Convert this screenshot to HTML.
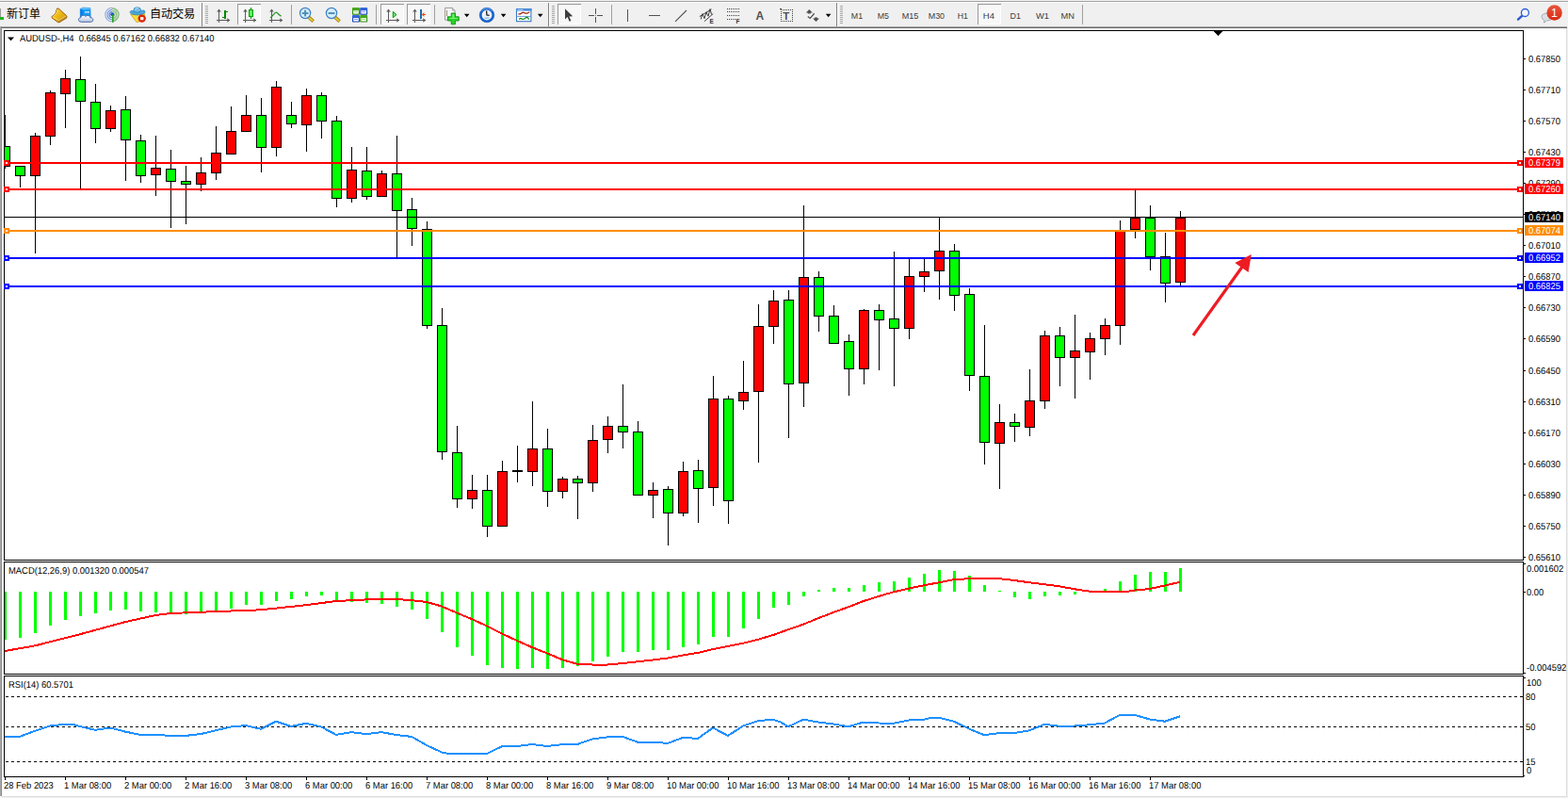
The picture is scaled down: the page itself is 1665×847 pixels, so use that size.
<!DOCTYPE html>
<html><head><meta charset="utf-8"><title>AUDUSD H4</title><style>
html,body{margin:0;padding:0}
body{width:1665px;height:847px;position:relative;overflow:hidden;background:#fff;font-family:"Liberation Sans",sans-serif}
svg{position:absolute;left:0;top:0}
.t{position:absolute;font-size:10px;line-height:12px;height:12px;white-space:nowrap;color:#000;text-rendering:geometricPrecision;transform:scaleX(.94);transform-origin:0 0}
.pb{position:absolute;left:1619px;width:41px;height:11px;color:#fff;font-size:10px;line-height:12px;text-rendering:geometricPrecision}
.pb span{position:absolute;left:4px;top:1px;white-space:nowrap;transform:scaleX(.94);transform-origin:0 0}
</style></head>
<body>
<svg width="1665" height="847" viewBox="0 0 1665 847" shape-rendering="crispEdges">
<rect x="0" y="0" width="1665" height="847" fill="#fff"/>
<rect x="0" y="0" width="1665" height="28" fill="#f0f0f0"/>
<rect x="0" y="0" width="1665" height="1" fill="#f2f2f2"/><rect x="0" y="1" width="1665" height="1" fill="#a0a0a0"/><rect x="0" y="2" width="1665" height="1" fill="#fff"/>
<rect x="0" y="28" width="1664" height="1" fill="#a8a8a8"/><rect x="0" y="29" width="1664" height="1" fill="#696969"/>
<rect x="0" y="28" width="1" height="817" fill="#a8a8a8"/><rect x="1" y="28" width="1" height="817" fill="#8c8c8c"/>
<rect x="1663" y="30" width="1" height="816" fill="#dcdcdc"/><rect x="1664" y="28" width="1" height="819" fill="#f0f0f0"/>
<rect x="2" y="845" width="1662" height="1" fill="#dcdcdc"/><rect x="0" y="846" width="1665" height="1" fill="#f0f0f0"/>
<polygon points="8,39.4 15,39.4 11.5,43.2" fill="#000" shape-rendering="auto"/>
<polygon points="1288.5,33 1298.5,33 1293.5,38.3" fill="#000"/>
<clipPath id="cm"><rect x="5" y="33" width="1612" height="561"/></clipPath><g clip-path="url(#cm)">
<rect x="5" y="122" width="1" height="57" fill="#000"/>
<rect x="0" y="155" width="11" height="22" fill="#000"/>
<rect x="1" y="156" width="9" height="20" fill="#00ff00"/>
<rect x="21" y="176" width="1" height="23" fill="#000"/>
<rect x="16" y="176" width="11" height="11" fill="#000"/>
<rect x="17" y="177" width="9" height="9" fill="#00ff00"/>
<rect x="37" y="141" width="1" height="128" fill="#000"/>
<rect x="32" y="144" width="11" height="43" fill="#000"/>
<rect x="33" y="145" width="9" height="41" fill="#ff0000"/>
<rect x="53" y="96" width="1" height="58" fill="#000"/>
<rect x="48" y="98" width="11" height="47" fill="#000"/>
<rect x="49" y="99" width="9" height="45" fill="#ff0000"/>
<rect x="69" y="74" width="1" height="62" fill="#000"/>
<rect x="64" y="83" width="11" height="17" fill="#000"/>
<rect x="65" y="84" width="9" height="15" fill="#ff0000"/>
<rect x="85" y="60" width="1" height="140" fill="#000"/>
<rect x="80" y="84" width="11" height="24" fill="#000"/>
<rect x="81" y="85" width="9" height="22" fill="#00ff00"/>
<rect x="101" y="89" width="1" height="63" fill="#000"/>
<rect x="96" y="108" width="11" height="29" fill="#000"/>
<rect x="97" y="109" width="9" height="27" fill="#00ff00"/>
<rect x="117" y="112" width="1" height="28" fill="#000"/>
<rect x="112" y="117" width="11" height="20" fill="#000"/>
<rect x="113" y="118" width="9" height="18" fill="#ff0000"/>
<rect x="133" y="102" width="1" height="90" fill="#000"/>
<rect x="128" y="116" width="11" height="33" fill="#000"/>
<rect x="129" y="117" width="9" height="31" fill="#00ff00"/>
<rect x="149" y="143" width="1" height="51" fill="#000"/>
<rect x="144" y="149" width="11" height="38" fill="#000"/>
<rect x="145" y="150" width="9" height="36" fill="#00ff00"/>
<rect x="165" y="144" width="1" height="64" fill="#000"/>
<rect x="160" y="178" width="11" height="8" fill="#000"/>
<rect x="161" y="179" width="9" height="6" fill="#ff0000"/>
<rect x="181" y="159" width="1" height="83" fill="#000"/>
<rect x="176" y="179" width="11" height="14" fill="#000"/>
<rect x="177" y="180" width="9" height="12" fill="#00ff00"/>
<rect x="197" y="176" width="1" height="62" fill="#000"/>
<rect x="192" y="192" width="11" height="4" fill="#000"/>
<rect x="193" y="193" width="9" height="2" fill="#00ff00"/>
<rect x="213" y="167" width="1" height="36" fill="#000"/>
<rect x="208" y="183" width="11" height="13" fill="#000"/>
<rect x="209" y="184" width="9" height="11" fill="#ff0000"/>
<rect x="229" y="134" width="1" height="57" fill="#000"/>
<rect x="224" y="162" width="11" height="22" fill="#000"/>
<rect x="225" y="163" width="9" height="20" fill="#ff0000"/>
<rect x="245" y="113" width="1" height="50" fill="#000"/>
<rect x="240" y="139" width="11" height="25" fill="#000"/>
<rect x="241" y="140" width="9" height="23" fill="#ff0000"/>
<rect x="261" y="101" width="1" height="38" fill="#000"/>
<rect x="256" y="122" width="11" height="18" fill="#000"/>
<rect x="257" y="123" width="9" height="16" fill="#ff0000"/>
<rect x="277" y="104" width="1" height="79" fill="#000"/>
<rect x="272" y="122" width="11" height="35" fill="#000"/>
<rect x="273" y="123" width="9" height="33" fill="#00ff00"/>
<rect x="293" y="86" width="1" height="80" fill="#000"/>
<rect x="288" y="92" width="11" height="65" fill="#000"/>
<rect x="289" y="93" width="9" height="63" fill="#ff0000"/>
<rect x="309" y="108" width="1" height="28" fill="#000"/>
<rect x="304" y="122" width="11" height="10" fill="#000"/>
<rect x="305" y="123" width="9" height="8" fill="#00ff00"/>
<rect x="325" y="94" width="1" height="67" fill="#000"/>
<rect x="320" y="101" width="11" height="32" fill="#000"/>
<rect x="321" y="102" width="9" height="30" fill="#ff0000"/>
<rect x="341" y="98" width="1" height="49" fill="#000"/>
<rect x="336" y="101" width="11" height="28" fill="#000"/>
<rect x="337" y="102" width="9" height="26" fill="#00ff00"/>
<rect x="357" y="123" width="1" height="97" fill="#000"/>
<rect x="352" y="128" width="11" height="83" fill="#000"/>
<rect x="353" y="129" width="9" height="81" fill="#00ff00"/>
<rect x="373" y="156" width="1" height="59" fill="#000"/>
<rect x="368" y="180" width="11" height="31" fill="#000"/>
<rect x="369" y="181" width="9" height="29" fill="#ff0000"/>
<rect x="389" y="156" width="1" height="56" fill="#000"/>
<rect x="384" y="181" width="11" height="28" fill="#000"/>
<rect x="385" y="182" width="9" height="26" fill="#00ff00"/>
<rect x="405" y="181" width="1" height="27" fill="#000"/>
<rect x="400" y="184" width="11" height="25" fill="#000"/>
<rect x="401" y="185" width="9" height="23" fill="#ff0000"/>
<rect x="421" y="144" width="1" height="129" fill="#000"/>
<rect x="416" y="184" width="11" height="40" fill="#000"/>
<rect x="417" y="185" width="9" height="38" fill="#00ff00"/>
<rect x="437" y="210" width="1" height="51" fill="#000"/>
<rect x="432" y="222" width="11" height="21" fill="#000"/>
<rect x="433" y="223" width="9" height="19" fill="#00ff00"/>
<rect x="453" y="235" width="1" height="114" fill="#000"/>
<rect x="448" y="243" width="11" height="103" fill="#000"/>
<rect x="449" y="244" width="9" height="101" fill="#00ff00"/>
<rect x="469" y="327" width="1" height="161" fill="#000"/>
<rect x="464" y="345" width="11" height="135" fill="#000"/>
<rect x="465" y="346" width="9" height="133" fill="#00ff00"/>
<rect x="485" y="452" width="1" height="87" fill="#000"/>
<rect x="480" y="480" width="11" height="50" fill="#000"/>
<rect x="481" y="481" width="9" height="48" fill="#00ff00"/>
<rect x="501" y="504" width="1" height="36" fill="#000"/>
<rect x="496" y="520" width="11" height="10" fill="#000"/>
<rect x="497" y="521" width="9" height="8" fill="#ff0000"/>
<rect x="517" y="504" width="1" height="66" fill="#000"/>
<rect x="512" y="520" width="11" height="39" fill="#000"/>
<rect x="513" y="521" width="9" height="37" fill="#00ff00"/>
<rect x="533" y="489" width="1" height="69" fill="#000"/>
<rect x="528" y="500" width="11" height="59" fill="#000"/>
<rect x="529" y="501" width="9" height="57" fill="#ff0000"/>
<rect x="549" y="473" width="1" height="39" fill="#000"/>
<rect x="544" y="499" width="11" height="2" fill="#000"/>
<rect x="565" y="426" width="1" height="90" fill="#000"/>
<rect x="560" y="476" width="11" height="25" fill="#000"/>
<rect x="561" y="477" width="9" height="23" fill="#ff0000"/>
<rect x="581" y="455" width="1" height="83" fill="#000"/>
<rect x="576" y="476" width="11" height="46" fill="#000"/>
<rect x="577" y="477" width="9" height="44" fill="#00ff00"/>
<rect x="597" y="506" width="1" height="23" fill="#000"/>
<rect x="592" y="508" width="11" height="14" fill="#000"/>
<rect x="593" y="509" width="9" height="12" fill="#ff0000"/>
<rect x="613" y="505" width="1" height="46" fill="#000"/>
<rect x="608" y="508" width="11" height="5" fill="#000"/>
<rect x="609" y="509" width="9" height="3" fill="#00ff00"/>
<rect x="629" y="451" width="1" height="71" fill="#000"/>
<rect x="624" y="467" width="11" height="46" fill="#000"/>
<rect x="625" y="468" width="9" height="44" fill="#ff0000"/>
<rect x="645" y="442" width="1" height="39" fill="#000"/>
<rect x="640" y="452" width="11" height="15" fill="#000"/>
<rect x="641" y="453" width="9" height="13" fill="#ff0000"/>
<rect x="661" y="408" width="1" height="68" fill="#000"/>
<rect x="656" y="452" width="11" height="7" fill="#000"/>
<rect x="657" y="453" width="9" height="5" fill="#00ff00"/>
<rect x="677" y="447" width="1" height="78" fill="#000"/>
<rect x="672" y="458" width="11" height="68" fill="#000"/>
<rect x="673" y="459" width="9" height="66" fill="#00ff00"/>
<rect x="693" y="512" width="1" height="38" fill="#000"/>
<rect x="688" y="520" width="11" height="6" fill="#000"/>
<rect x="689" y="521" width="9" height="4" fill="#ff0000"/>
<rect x="709" y="516" width="1" height="63" fill="#000"/>
<rect x="704" y="519" width="11" height="26" fill="#000"/>
<rect x="705" y="520" width="9" height="24" fill="#00ff00"/>
<rect x="725" y="490" width="1" height="58" fill="#000"/>
<rect x="720" y="500" width="11" height="45" fill="#000"/>
<rect x="721" y="501" width="9" height="43" fill="#ff0000"/>
<rect x="741" y="488" width="1" height="67" fill="#000"/>
<rect x="736" y="499" width="11" height="20" fill="#000"/>
<rect x="737" y="500" width="9" height="18" fill="#00ff00"/>
<rect x="757" y="399" width="1" height="138" fill="#000"/>
<rect x="752" y="423" width="11" height="95" fill="#000"/>
<rect x="753" y="424" width="9" height="93" fill="#ff0000"/>
<rect x="773" y="420" width="1" height="136" fill="#000"/>
<rect x="768" y="423" width="11" height="109" fill="#000"/>
<rect x="769" y="424" width="9" height="107" fill="#00ff00"/>
<rect x="789" y="383" width="1" height="52" fill="#000"/>
<rect x="784" y="416" width="11" height="10" fill="#000"/>
<rect x="785" y="417" width="9" height="8" fill="#ff0000"/>
<rect x="805" y="323" width="1" height="168" fill="#000"/>
<rect x="800" y="346" width="11" height="70" fill="#000"/>
<rect x="801" y="347" width="9" height="68" fill="#ff0000"/>
<rect x="821" y="308" width="1" height="57" fill="#000"/>
<rect x="816" y="319" width="11" height="28" fill="#000"/>
<rect x="817" y="320" width="9" height="26" fill="#ff0000"/>
<rect x="837" y="308" width="1" height="157" fill="#000"/>
<rect x="832" y="318" width="11" height="90" fill="#000"/>
<rect x="833" y="319" width="9" height="88" fill="#00ff00"/>
<rect x="853" y="218" width="1" height="214" fill="#000"/>
<rect x="848" y="294" width="11" height="113" fill="#000"/>
<rect x="849" y="295" width="9" height="111" fill="#ff0000"/>
<rect x="869" y="288" width="1" height="64" fill="#000"/>
<rect x="864" y="294" width="11" height="42" fill="#000"/>
<rect x="865" y="295" width="9" height="40" fill="#00ff00"/>
<rect x="885" y="324" width="1" height="40" fill="#000"/>
<rect x="880" y="335" width="11" height="30" fill="#000"/>
<rect x="881" y="336" width="9" height="28" fill="#00ff00"/>
<rect x="901" y="355" width="1" height="65" fill="#000"/>
<rect x="896" y="362" width="11" height="30" fill="#000"/>
<rect x="897" y="363" width="9" height="28" fill="#00ff00"/>
<rect x="917" y="328" width="1" height="80" fill="#000"/>
<rect x="912" y="329" width="11" height="63" fill="#000"/>
<rect x="913" y="330" width="9" height="61" fill="#ff0000"/>
<rect x="933" y="323" width="1" height="70" fill="#000"/>
<rect x="928" y="329" width="11" height="11" fill="#000"/>
<rect x="929" y="330" width="9" height="9" fill="#00ff00"/>
<rect x="949" y="267" width="1" height="143" fill="#000"/>
<rect x="944" y="338" width="11" height="11" fill="#000"/>
<rect x="945" y="339" width="9" height="9" fill="#00ff00"/>
<rect x="965" y="275" width="1" height="85" fill="#000"/>
<rect x="960" y="293" width="11" height="56" fill="#000"/>
<rect x="961" y="294" width="9" height="54" fill="#ff0000"/>
<rect x="981" y="275" width="1" height="35" fill="#000"/>
<rect x="976" y="288" width="11" height="6" fill="#000"/>
<rect x="977" y="289" width="9" height="4" fill="#ff0000"/>
<rect x="997" y="230" width="1" height="88" fill="#000"/>
<rect x="992" y="266" width="11" height="22" fill="#000"/>
<rect x="993" y="267" width="9" height="20" fill="#ff0000"/>
<rect x="1013" y="259" width="1" height="71" fill="#000"/>
<rect x="1008" y="266" width="11" height="48" fill="#000"/>
<rect x="1009" y="267" width="9" height="46" fill="#00ff00"/>
<rect x="1029" y="306" width="1" height="109" fill="#000"/>
<rect x="1024" y="312" width="11" height="87" fill="#000"/>
<rect x="1025" y="313" width="9" height="85" fill="#00ff00"/>
<rect x="1045" y="345" width="1" height="148" fill="#000"/>
<rect x="1040" y="399" width="11" height="71" fill="#000"/>
<rect x="1041" y="400" width="9" height="69" fill="#00ff00"/>
<rect x="1061" y="429" width="1" height="90" fill="#000"/>
<rect x="1056" y="448" width="11" height="23" fill="#000"/>
<rect x="1057" y="449" width="9" height="21" fill="#ff0000"/>
<rect x="1077" y="439" width="1" height="30" fill="#000"/>
<rect x="1072" y="448" width="11" height="5" fill="#000"/>
<rect x="1073" y="449" width="9" height="3" fill="#00ff00"/>
<rect x="1093" y="392" width="1" height="71" fill="#000"/>
<rect x="1088" y="425" width="11" height="29" fill="#000"/>
<rect x="1089" y="426" width="9" height="27" fill="#ff0000"/>
<rect x="1109" y="351" width="1" height="83" fill="#000"/>
<rect x="1104" y="356" width="11" height="70" fill="#000"/>
<rect x="1105" y="357" width="9" height="68" fill="#ff0000"/>
<rect x="1125" y="347" width="1" height="63" fill="#000"/>
<rect x="1120" y="356" width="11" height="24" fill="#000"/>
<rect x="1121" y="357" width="9" height="22" fill="#00ff00"/>
<rect x="1141" y="334" width="1" height="89" fill="#000"/>
<rect x="1136" y="372" width="11" height="8" fill="#000"/>
<rect x="1137" y="373" width="9" height="6" fill="#ff0000"/>
<rect x="1157" y="353" width="1" height="50" fill="#000"/>
<rect x="1152" y="359" width="11" height="15" fill="#000"/>
<rect x="1153" y="360" width="9" height="13" fill="#ff0000"/>
<rect x="1173" y="338" width="1" height="39" fill="#000"/>
<rect x="1168" y="345" width="11" height="15" fill="#000"/>
<rect x="1169" y="346" width="9" height="13" fill="#ff0000"/>
<rect x="1189" y="234" width="1" height="132" fill="#000"/>
<rect x="1184" y="245" width="11" height="101" fill="#000"/>
<rect x="1185" y="246" width="9" height="99" fill="#ff0000"/>
<rect x="1205" y="202" width="1" height="51" fill="#000"/>
<rect x="1200" y="231" width="11" height="13" fill="#000"/>
<rect x="1201" y="232" width="9" height="11" fill="#ff0000"/>
<rect x="1221" y="218" width="1" height="69" fill="#000"/>
<rect x="1216" y="231" width="11" height="42" fill="#000"/>
<rect x="1217" y="232" width="9" height="40" fill="#00ff00"/>
<rect x="1237" y="247" width="1" height="74" fill="#000"/>
<rect x="1232" y="272" width="11" height="29" fill="#000"/>
<rect x="1233" y="273" width="9" height="27" fill="#00ff00"/>
<rect x="1253" y="224" width="1" height="79" fill="#000"/>
<rect x="1248" y="231" width="11" height="69" fill="#000"/>
<rect x="1249" y="232" width="9" height="67" fill="#ff0000"/>
</g>
<rect x="5" y="230" width="1612" height="1" fill="#000"/>
<rect x="5" y="172" width="1612" height="2" fill="#ff0000"/>
<rect x="4" y="170" width="6" height="6" fill="#ff0000"/>
<rect x="6" y="172" width="2" height="2" fill="#fff"/>
<rect x="1611" y="170" width="6" height="6" fill="#ff0000"/>
<rect x="1613" y="172" width="2" height="2" fill="#fff"/>
<rect x="5" y="200" width="1612" height="2" fill="#ff0000"/>
<rect x="4" y="198" width="6" height="6" fill="#ff0000"/>
<rect x="6" y="200" width="2" height="2" fill="#fff"/>
<rect x="1611" y="198" width="6" height="6" fill="#ff0000"/>
<rect x="1613" y="200" width="2" height="2" fill="#fff"/>
<rect x="5" y="244" width="1612" height="2" fill="#ff8c00"/>
<rect x="4" y="242" width="6" height="6" fill="#ff8c00"/>
<rect x="6" y="244" width="2" height="2" fill="#fff"/>
<rect x="1611" y="242" width="6" height="6" fill="#ff8c00"/>
<rect x="1613" y="244" width="2" height="2" fill="#fff"/>
<rect x="5" y="273" width="1612" height="2" fill="#0000ff"/>
<rect x="4" y="271" width="6" height="6" fill="#0000ff"/>
<rect x="6" y="273" width="2" height="2" fill="#fff"/>
<rect x="1611" y="271" width="6" height="6" fill="#0000ff"/>
<rect x="1613" y="273" width="2" height="2" fill="#fff"/>
<rect x="5" y="303" width="1612" height="2" fill="#0000ff"/>
<rect x="4" y="301" width="6" height="6" fill="#0000ff"/>
<rect x="6" y="303" width="2" height="2" fill="#fff"/>
<rect x="1611" y="301" width="6" height="6" fill="#0000ff"/>
<rect x="1613" y="303" width="2" height="2" fill="#fff"/>
<line x1="1267" y1="356" x2="1321" y2="280.5" stroke="#ed1c24" stroke-width="3.2" shape-rendering="geometricPrecision"/>
<polygon points="1328.8,269.9 1311.3,279 1325.6,289" fill="#ed1c24" shape-rendering="geometricPrecision"/>
<rect x="4" y="628" width="3" height="51" fill="#00ff00"/>
<rect x="20" y="628" width="3" height="49" fill="#00ff00"/>
<rect x="36" y="628" width="3" height="44" fill="#00ff00"/>
<rect x="52" y="628" width="3" height="36" fill="#00ff00"/>
<rect x="68" y="628" width="3" height="30" fill="#00ff00"/>
<rect x="84" y="628" width="3" height="26" fill="#00ff00"/>
<rect x="100" y="628" width="3" height="23" fill="#00ff00"/>
<rect x="116" y="628" width="3" height="20" fill="#00ff00"/>
<rect x="132" y="628" width="3" height="19" fill="#00ff00"/>
<rect x="148" y="628" width="3" height="21" fill="#00ff00"/>
<rect x="164" y="628" width="3" height="22" fill="#00ff00"/>
<rect x="180" y="628" width="3" height="23" fill="#00ff00"/>
<rect x="196" y="628" width="3" height="24" fill="#00ff00"/>
<rect x="212" y="628" width="3" height="23" fill="#00ff00"/>
<rect x="228" y="628" width="3" height="20" fill="#00ff00"/>
<rect x="244" y="628" width="3" height="18" fill="#00ff00"/>
<rect x="260" y="628" width="3" height="14" fill="#00ff00"/>
<rect x="276" y="628" width="3" height="14" fill="#00ff00"/>
<rect x="292" y="628" width="3" height="10" fill="#00ff00"/>
<rect x="308" y="628" width="3" height="8" fill="#00ff00"/>
<rect x="324" y="628" width="3" height="5" fill="#00ff00"/>
<rect x="340" y="628" width="3" height="4" fill="#00ff00"/>
<rect x="356" y="628" width="3" height="9" fill="#00ff00"/>
<rect x="372" y="628" width="3" height="11" fill="#00ff00"/>
<rect x="388" y="628" width="3" height="12" fill="#00ff00"/>
<rect x="404" y="628" width="3" height="13" fill="#00ff00"/>
<rect x="420" y="628" width="3" height="16" fill="#00ff00"/>
<rect x="436" y="628" width="3" height="19" fill="#00ff00"/>
<rect x="452" y="628" width="3" height="29" fill="#00ff00"/>
<rect x="468" y="628" width="3" height="43" fill="#00ff00"/>
<rect x="484" y="628" width="3" height="59" fill="#00ff00"/>
<rect x="500" y="628" width="3" height="68" fill="#00ff00"/>
<rect x="516" y="628" width="3" height="78" fill="#00ff00"/>
<rect x="532" y="628" width="3" height="81" fill="#00ff00"/>
<rect x="548" y="628" width="3" height="82" fill="#00ff00"/>
<rect x="564" y="628" width="3" height="81" fill="#00ff00"/>
<rect x="580" y="628" width="3" height="82" fill="#00ff00"/>
<rect x="596" y="628" width="3" height="81" fill="#00ff00"/>
<rect x="612" y="628" width="3" height="79" fill="#00ff00"/>
<rect x="628" y="628" width="3" height="74" fill="#00ff00"/>
<rect x="644" y="628" width="3" height="69" fill="#00ff00"/>
<rect x="660" y="628" width="3" height="64" fill="#00ff00"/>
<rect x="676" y="628" width="3" height="64" fill="#00ff00"/>
<rect x="692" y="628" width="3" height="62" fill="#00ff00"/>
<rect x="708" y="628" width="3" height="62" fill="#00ff00"/>
<rect x="724" y="628" width="3" height="59" fill="#00ff00"/>
<rect x="740" y="628" width="3" height="56" fill="#00ff00"/>
<rect x="756" y="628" width="3" height="48" fill="#00ff00"/>
<rect x="772" y="628" width="3" height="48" fill="#00ff00"/>
<rect x="788" y="628" width="3" height="39" fill="#00ff00"/>
<rect x="804" y="628" width="3" height="29" fill="#00ff00"/>
<rect x="820" y="628" width="3" height="17" fill="#00ff00"/>
<rect x="836" y="628" width="3" height="14" fill="#00ff00"/>
<rect x="852" y="628" width="3" height="5" fill="#00ff00"/>
<rect x="868" y="626" width="3" height="2" fill="#00ff00"/>
<rect x="884" y="624" width="3" height="4" fill="#00ff00"/>
<rect x="900" y="624" width="3" height="4" fill="#00ff00"/>
<rect x="916" y="621" width="3" height="7" fill="#00ff00"/>
<rect x="932" y="618" width="3" height="10" fill="#00ff00"/>
<rect x="948" y="617" width="3" height="11" fill="#00ff00"/>
<rect x="964" y="613" width="3" height="15" fill="#00ff00"/>
<rect x="980" y="609" width="3" height="19" fill="#00ff00"/>
<rect x="996" y="605" width="3" height="23" fill="#00ff00"/>
<rect x="1012" y="606" width="3" height="22" fill="#00ff00"/>
<rect x="1028" y="611" width="3" height="17" fill="#00ff00"/>
<rect x="1044" y="621" width="3" height="7" fill="#00ff00"/>
<rect x="1060" y="627" width="3" height="1" fill="#00ff00"/>
<rect x="1076" y="628" width="3" height="6" fill="#00ff00"/>
<rect x="1092" y="628" width="3" height="8" fill="#00ff00"/>
<rect x="1108" y="628" width="3" height="5" fill="#00ff00"/>
<rect x="1124" y="628" width="3" height="4" fill="#00ff00"/>
<rect x="1140" y="628" width="3" height="3" fill="#00ff00"/>
<rect x="1172" y="625" width="3" height="3" fill="#00ff00"/>
<rect x="1188" y="617" width="3" height="11" fill="#00ff00"/>
<rect x="1204" y="610" width="3" height="18" fill="#00ff00"/>
<rect x="1220" y="607" width="3" height="21" fill="#00ff00"/>
<rect x="1236" y="607" width="3" height="21" fill="#00ff00"/>
<rect x="1252" y="603" width="3" height="25" fill="#00ff00"/>
<clipPath id="c2"><rect x="5" y="597" width="1612" height="118"/></clipPath>
<polyline clip-path="url(#c2)" fill="none" stroke="#ff0000" stroke-width="2" stroke-linejoin="round" points="5,691 37,685.4 85,673.2 133,660.1 165,653 181,651 245,648.5 277,647.3 325,642.2 357,638 389,636.4 421,636 437,637.2 453,638.9 469,643.5 485,650.5 501,657.1 517,664.4 533,672.5 549,680 565,687.1 581,693.4 597,700.2 613,704.8 629,705.5 645,705.5 661,704 677,702.3 693,700.5 709,698.5 725,695.5 741,692.9 757,689.1 773,685.9 789,682.8 805,678.8 821,674 837,668.2 853,662.7 869,656.1 885,650 901,644.2 917,638 933,632.9 949,628.3 965,624.6 981,621.3 997,618.3 1013,615.2 1029,614.2 1045,614.2 1061,614.2 1077,616 1093,618.3 1109,620.3 1125,622.3 1141,625.3 1157,627.6 1173,627.9 1189,627.9 1197,627.9 1205,626.5 1221,625 1237,621.5 1253,617.8"/>
<line x1="6" y1="739.5" x2="1617" y2="739.5" stroke="#000" stroke-width="1" stroke-dasharray="3 3" shape-rendering="crispEdges"/>
<line x1="6" y1="771.5" x2="1617" y2="771.5" stroke="#000" stroke-width="1" stroke-dasharray="3 3" shape-rendering="crispEdges"/>
<line x1="6" y1="808.5" x2="1617" y2="808.5" stroke="#000" stroke-width="1" stroke-dasharray="3 3" shape-rendering="crispEdges"/>
<polyline fill="none" stroke="#1e90ff" stroke-width="2" stroke-linejoin="round" points="5,781.9 21,781.9 37,775.8 53,770.5 69,768.8 77,768.8 85,771 101,774.8 117,772.5 133,776.6 149,779.9 165,779.9 181,780.9 197,780.9 213,779.1 229,775.3 245,771.5 261,770 277,773.8 293,765.7 309,771 325,767.8 341,771.5 357,779.9 373,777.1 389,779.1 405,777.1 421,780.1 437,781.9 453,791 469,798.5 477,800 485,800 501,800 517,800 533,792.2 549,792 565,790 581,792 597,790.2 613,790 629,784.4 645,782.4 653,781.9 661,781.9 677,787.7 693,787.7 709,788.9 725,782.9 741,783.9 757,772.5 773,780.9 789,770.5 805,765.2 821,763.7 829,766.5 837,771.3 853,763.7 869,766.5 885,768.5 901,771.3 917,766.5 933,767.5 949,767.8 965,764.5 981,763.7 989,761.7 997,761.7 1013,765.7 1029,773.6 1045,780.1 1061,778.1 1077,778.1 1093,775.3 1109,768.8 1125,770.8 1141,770.5 1157,769.3 1173,767.5 1189,758.9 1205,758.9 1221,763.5 1237,765.7 1253,760.4"/>
<rect x="4" y="32" width="1614" height="1" fill="#000"/>
<rect x="4" y="594" width="1614" height="1" fill="#000"/>
<rect x="4" y="32" width="1" height="563" fill="#000"/>
<rect x="1617" y="32" width="1" height="563" fill="#000"/>
<rect x="4" y="596" width="1614" height="1" fill="#000"/>
<rect x="4" y="715" width="1614" height="1" fill="#000"/>
<rect x="4" y="596" width="1" height="120" fill="#000"/>
<rect x="1617" y="596" width="1" height="120" fill="#000"/>
<rect x="4" y="717" width="1614" height="1" fill="#000"/>
<rect x="4" y="824" width="1614" height="1" fill="#000"/>
<rect x="4" y="717" width="1" height="108" fill="#000"/>
<rect x="1617" y="717" width="1" height="108" fill="#000"/>
<rect x="4" y="170" width="6" height="6" fill="#ff0000"/>
<rect x="6" y="172" width="2" height="2" fill="#fff"/>
<rect x="1611" y="170" width="6" height="6" fill="#ff0000"/>
<rect x="1613" y="172" width="2" height="2" fill="#fff"/>
<rect x="4" y="198" width="6" height="6" fill="#ff0000"/>
<rect x="6" y="200" width="2" height="2" fill="#fff"/>
<rect x="1611" y="198" width="6" height="6" fill="#ff0000"/>
<rect x="1613" y="200" width="2" height="2" fill="#fff"/>
<rect x="4" y="242" width="6" height="6" fill="#ff8c00"/>
<rect x="6" y="244" width="2" height="2" fill="#fff"/>
<rect x="1611" y="242" width="6" height="6" fill="#ff8c00"/>
<rect x="1613" y="244" width="2" height="2" fill="#fff"/>
<rect x="4" y="271" width="6" height="6" fill="#0000ff"/>
<rect x="6" y="273" width="2" height="2" fill="#fff"/>
<rect x="1611" y="271" width="6" height="6" fill="#0000ff"/>
<rect x="1613" y="273" width="2" height="2" fill="#fff"/>
<rect x="4" y="301" width="6" height="6" fill="#0000ff"/>
<rect x="6" y="303" width="2" height="2" fill="#fff"/>
<rect x="1611" y="301" width="6" height="6" fill="#0000ff"/>
<rect x="1613" y="303" width="2" height="2" fill="#fff"/>
<rect x="1618" y="62" width="2" height="1" fill="#000"/>
<rect x="1618" y="95" width="2" height="1" fill="#000"/>
<rect x="1618" y="128" width="2" height="1" fill="#000"/>
<rect x="1618" y="161" width="2" height="1" fill="#000"/>
<rect x="1618" y="194" width="2" height="1" fill="#000"/>
<rect x="1618" y="227" width="2" height="1" fill="#000"/>
<rect x="1618" y="260" width="2" height="1" fill="#000"/>
<rect x="1618" y="293" width="2" height="1" fill="#000"/>
<rect x="1618" y="326" width="2" height="1" fill="#000"/>
<rect x="1618" y="359" width="2" height="1" fill="#000"/>
<rect x="1618" y="393" width="2" height="1" fill="#000"/>
<rect x="1618" y="426" width="2" height="1" fill="#000"/>
<rect x="1618" y="459" width="2" height="1" fill="#000"/>
<rect x="1618" y="492" width="2" height="1" fill="#000"/>
<rect x="1618" y="525" width="2" height="1" fill="#000"/>
<rect x="1618" y="558" width="2" height="1" fill="#000"/>
<rect x="1618" y="591" width="2" height="1" fill="#000"/>
<rect x="1618" y="598" width="2" height="1" fill="#000"/>
<rect x="1618" y="628" width="2" height="1" fill="#000"/>
<rect x="1618" y="714" width="2" height="1" fill="#000"/>
<rect x="1618" y="719" width="2" height="1" fill="#000"/>
<rect x="1618" y="823" width="1" height="1" fill="#000"/>
<rect x="5" y="825" width="1" height="3" fill="#000"/>
<rect x="69" y="825" width="1" height="3" fill="#000"/>
<rect x="133" y="825" width="1" height="3" fill="#000"/>
<rect x="197" y="825" width="1" height="3" fill="#000"/>
<rect x="261" y="825" width="1" height="3" fill="#000"/>
<rect x="325" y="825" width="1" height="3" fill="#000"/>
<rect x="389" y="825" width="1" height="3" fill="#000"/>
<rect x="453" y="825" width="1" height="3" fill="#000"/>
<rect x="517" y="825" width="1" height="3" fill="#000"/>
<rect x="581" y="825" width="1" height="3" fill="#000"/>
<rect x="645" y="825" width="1" height="3" fill="#000"/>
<rect x="709" y="825" width="1" height="3" fill="#000"/>
<rect x="773" y="825" width="1" height="3" fill="#000"/>
<rect x="837" y="825" width="1" height="3" fill="#000"/>
<rect x="901" y="825" width="1" height="3" fill="#000"/>
<rect x="965" y="825" width="1" height="3" fill="#000"/>
<rect x="1029" y="825" width="1" height="3" fill="#000"/>
<rect x="1093" y="825" width="1" height="3" fill="#000"/>
<rect x="1157" y="825" width="1" height="3" fill="#000"/>
<rect x="1221" y="825" width="1" height="3" fill="#000"/>
</svg>
<svg width="1665" height="30" viewBox="0 0 1665 30" style="position:absolute;left:0;top:0">
<defs><linearGradient id="gGold" x1="0" y1="0" x2="1" y2="1"><stop offset="0" stop-color="#fbd94a"/><stop offset=".5" stop-color="#eab711"/><stop offset="1" stop-color="#c8881a"/></linearGradient><linearGradient id="gCloud" x1="0" y1="0" x2="0" y2="1"><stop offset="0" stop-color="#ffffff"/><stop offset="1" stop-color="#b4c4de"/></linearGradient><linearGradient id="gRed" x1="0" y1="0" x2="0" y2="1"><stop offset="0" stop-color="#e8553a"/><stop offset="1" stop-color="#d92a14"/></linearGradient><linearGradient id="gBlueT" x1="0" y1="0" x2="0" y2="1"><stop offset="0" stop-color="#3a6ee0"/><stop offset="1" stop-color="#1440b0"/></linearGradient><linearGradient id="gGreenT" x1="0" y1="0" x2="0" y2="1"><stop offset="0" stop-color="#4cae22"/><stop offset="1" stop-color="#2c8a10"/></linearGradient><pattern id="chk" width="2" height="2" patternUnits="userSpaceOnUse"><rect width="2" height="2" fill="#fff"/><rect width="1" height="1" fill="#f0f0f0"/><rect x="1" y="1" width="1" height="1" fill="#f0f0f0"/></pattern></defs>
<rect x="0" y="18" width="4" height="3" fill="#22b422" shape-rendering="crispEdges"/>
<rect x="0" y="9" width="1" height="9" fill="#9a9a9a" shape-rendering="crispEdges"/>
<text x="6.9" y="19.2" font-family="'Liberation Sans','Noto Sans CJK SC',sans-serif" font-size="12" fill="#000" textLength="36.1" lengthAdjust="spacing">新订单</text>
<path d="M60.6,9 L62,8.9 L70.9,17 L70.8,19 L62.9,23.8 L61.6,23.7 L55,18.8 L55.1,17.4 C57.4,16.4 59.4,14.2 59.6,12 Z" fill="url(#gGold)" stroke="#9a5c0c" stroke-width="1"/>
<path d="M62.2,21.4 L70.3,16.8 L70.3,18.7 L62.7,23.3 Z" fill="#c08a20"/>
<path d="M55.8,17.8 L62.3,21.5 L70.2,16.9" fill="none" stroke="#fff0a0" stroke-width=".7" opacity=".85"/>
<path d="M60.8,10 C60.6,13 59,15.6 56.6,17.2" fill="none" stroke="#fff3b0" stroke-width=".8" opacity=".7"/>
<polygon points="85.2,9.4 88.3,8.1 95.9,8.6 96.2,18.5 85.4,18.5" fill="#189cf8" stroke="#0a76d6" stroke-width=".6"/>
<polygon points="85.2,9.4 88.3,10.2 88.5,18.5 85.4,18.5" fill="#0b80e6"/>
<polygon points="85.2,9.4 88.3,8.1 95.9,8.6 95.9,10 88.3,10.2" fill="#5cc0ff"/>
<rect x="90" y="12.2" width="5" height="1.3" fill="#d8efff"/>
<path d="M86.4,23.3 C82.6,23.3 82.4,19 85.8,18.6 C86,16 89.8,15.6 90.8,17.4 C92.4,15.6 95.8,16.4 95.8,18.6 C99.6,18.4 99.8,23.3 96.4,23.3 Z" fill="url(#gCloud)" stroke="#4a68a6" stroke-width="1"/>
<path d="M119.2,8.2 A7.4,7.4 0 0 0 119.2,23.0" fill="none" stroke="#3f6fd6" stroke-width="1.1" opacity="0.55"/>
<path d="M119.2,10.399999999999999 A5.2,5.2 0 0 0 119.2,20.8" fill="none" stroke="#3f6fd6" stroke-width="1.1" opacity="0.75"/>
<path d="M119.2,12.5 A3.1,3.1 0 0 0 119.2,18.7" fill="none" stroke="#3f6fd6" stroke-width="1.1" opacity="0.9"/>
<path d="M119.2,15.6 L119.2,8.0 A7.6,7.6 0 0 1 119.2,23.2 Z" fill="#6fae6a" opacity=".75"/>
<path d="M119.2,10.399999999999999 A5.2,5.2 0 0 1 120.24000000000001,20.8" fill="none" stroke="#e8f4e8" stroke-width="1" opacity=".8"/>
<path d="M119.2,12.5 A3.1,3.1 0 0 1 119.82000000000001,18.7" fill="none" stroke="#e8f4e8" stroke-width="1" opacity=".8"/>
<circle cx="119.2" cy="15.2" r="1.9" fill="#2456cc"/>
<rect x="119" y="15.6" width="1.6" height="8.2" fill="#22a422"/>
<polygon points="138.6,15 153.6,14.4 153.2,17.5 146.6,23.6 144.8,23.4" fill="#f6dc3c" stroke="#c9a21c" stroke-width=".8"/>
<ellipse cx="145.7" cy="10.8" rx="3.9" ry="3" fill="#74c0ea" stroke="#2a80b4" stroke-width=".8"/>
<path d="M138,12.6 C139,10.8 141,11.4 142,12.2 C144,13.6 148,13.4 149.6,12 C151,10.6 153.6,10.6 154,12.4 C154,14.6 150,15.8 146,15.8 C142,15.8 138,14.8 138,12.6 Z" fill="#52a8dc" stroke="#2a80b4" stroke-width=".8"/>
<path d="M143.6,10 C144.2,8.8 145.6,8.4 146.8,8.6" fill="none" stroke="#c4e8fa" stroke-width=".9"/>
<circle cx="150.7" cy="19.6" r="4.2" fill="#de2408"/>
<rect x="149.1" y="18.1" width="3.3" height="3.1" fill="#fff"/>
<text x="158.9" y="19.2" font-family="'Liberation Sans','Noto Sans CJK SC',sans-serif" font-size="12.2" fill="#000" textLength="48.2" lengthAdjust="spacing">自动交易</text>
<rect x="214" y="3" width="1" height="25" fill="#828282" shape-rendering="crispEdges"/>
<rect x="215" y="3" width="1" height="25" fill="#fcfcfc" shape-rendering="crispEdges"/>
<rect x="218" y="6" width="3" height="1" fill="#a8a8a8" shape-rendering="crispEdges"/>
<rect x="218" y="8" width="3" height="1" fill="#a8a8a8" shape-rendering="crispEdges"/>
<rect x="218" y="10" width="3" height="1" fill="#a8a8a8" shape-rendering="crispEdges"/>
<rect x="218" y="12" width="3" height="1" fill="#a8a8a8" shape-rendering="crispEdges"/>
<rect x="218" y="14" width="3" height="1" fill="#a8a8a8" shape-rendering="crispEdges"/>
<rect x="218" y="16" width="3" height="1" fill="#a8a8a8" shape-rendering="crispEdges"/>
<rect x="218" y="18" width="3" height="1" fill="#a8a8a8" shape-rendering="crispEdges"/>
<rect x="218" y="20" width="3" height="1" fill="#a8a8a8" shape-rendering="crispEdges"/>
<rect x="218" y="22" width="3" height="1" fill="#a8a8a8" shape-rendering="crispEdges"/>
<rect x="218" y="24" width="3" height="1" fill="#a8a8a8" shape-rendering="crispEdges"/>
<rect x="232" y="11" width="1" height="13" fill="#5a5a5a" shape-rendering="crispEdges"/>
<rect x="230" y="21" width="14" height="1" fill="#5a5a5a" shape-rendering="crispEdges"/>
<polygon points="232.5,9.6 230.2,12.6 234.8,12.6" fill="#5a5a5a"/>
<polygon points="244.3,21.5 241.3,19.2 241.3,23.8" fill="#5a5a5a"/>
<rect x="238" y="11" width="2" height="9" fill="#008a00" shape-rendering="crispEdges"/>
<rect x="240" y="12" width="2" height="1" fill="#008a00" shape-rendering="crispEdges"/>
<rect x="236" y="18" width="2" height="1" fill="#008a00" shape-rendering="crispEdges"/>
<rect x="252" y="4" width="25" height="22" fill="url(#chk)" shape-rendering="crispEdges"/>
<rect x="252" y="4" width="25" height="1" fill="#9a9a9a" shape-rendering="crispEdges"/>
<rect x="252" y="4" width="1" height="22" fill="#9a9a9a" shape-rendering="crispEdges"/>
<rect x="253" y="25" width="24" height="1" fill="#ffffff" shape-rendering="crispEdges"/>
<rect x="276" y="5" width="1" height="21" fill="#ffffff" shape-rendering="crispEdges"/>
<rect x="260" y="11" width="1" height="13" fill="#5a5a5a" shape-rendering="crispEdges"/>
<rect x="258" y="21" width="14" height="1" fill="#5a5a5a" shape-rendering="crispEdges"/>
<polygon points="260.5,9.6 258.2,12.6 262.8,12.6" fill="#5a5a5a"/>
<polygon points="272.3,21.5 269.3,19.2 269.3,23.8" fill="#5a5a5a"/>
<rect x="266" y="8" width="1" height="12" fill="#008a00" shape-rendering="crispEdges"/>
<rect x="264" y="10" width="5" height="8" fill="#00a000" shape-rendering="crispEdges"/>
<rect x="265" y="11" width="3" height="6" fill="#5cf05c" shape-rendering="crispEdges"/>
<rect x="288" y="11" width="1" height="13" fill="#5a5a5a" shape-rendering="crispEdges"/>
<rect x="286" y="21" width="14" height="1" fill="#5a5a5a" shape-rendering="crispEdges"/>
<polygon points="288.5,9.6 286.2,12.6 290.8,12.6" fill="#5a5a5a"/>
<polygon points="300.3,21.5 297.3,19.2 297.3,23.8" fill="#5a5a5a"/>
<path d="M287,18.8 C290,17 291.5,12.6 293.5,13.2 C295.3,13.8 296.5,16.6 298.6,17" fill="none" stroke="#2a962a" stroke-width="1.3"/>
<rect x="309" y="5" width="1" height="21" fill="#a0a0a0" shape-rendering="crispEdges"/>
<line x1="327.70000000000005" y1="18.2" x2="332.70000000000005" y2="22.6" stroke="#a07a10" stroke-width="3.6" stroke-linecap="butt"/>
<line x1="327.90000000000003" y1="18.4" x2="332.3" y2="22.3" stroke="#e6cc38" stroke-width="2"/>
<circle cx="324.1" cy="14" r="5.6" fill="#d6ecf8" stroke="#3a80c8" stroke-width="1.2"/>
<rect x="320.70000000000005" y="13.1" width="6.8" height="1.9" fill="#4a8eb6"/>
<rect x="323.15000000000003" y="10.6" width="1.9" height="6.8" fill="#4a8eb6"/>
<line x1="355.6" y1="18.2" x2="360.6" y2="22.6" stroke="#a07a10" stroke-width="3.6" stroke-linecap="butt"/>
<line x1="355.8" y1="18.4" x2="360.2" y2="22.3" stroke="#e6cc38" stroke-width="2"/>
<circle cx="352" cy="14" r="5.6" fill="#d6ecf8" stroke="#3a80c8" stroke-width="1.2"/>
<rect x="348.6" y="13.1" width="6.8" height="1.9" fill="#4a8eb6"/>
<rect x="374" y="8" width="8" height="7.7" rx=".8" fill="url(#gGreenT)"/>
<rect x="375.2" y="11.2" width="5.6" height="3.4" fill="#fff"/>
<rect x="376" y="12.2" width="4" height=".9" fill="#9adb7a"/>
<rect x="382.2" y="8" width="8" height="7.7" rx=".8" fill="url(#gBlueT)"/>
<rect x="383.4" y="11.2" width="5.6" height="3.4" fill="#fff"/>
<rect x="384.2" y="12.2" width="4" height=".9" fill="#7a9cf0"/>
<rect x="374" y="15.9" width="8" height="7.7" rx=".8" fill="url(#gBlueT)"/>
<rect x="375.2" y="19.1" width="5.6" height="3.4" fill="#fff"/>
<rect x="376" y="20.1" width="4" height=".9" fill="#7a9cf0"/>
<rect x="382.2" y="15.9" width="8" height="7.7" rx=".8" fill="url(#gGreenT)"/>
<rect x="383.4" y="19.1" width="5.6" height="3.4" fill="#fff"/>
<rect x="384.2" y="20.1" width="4" height=".9" fill="#9adb7a"/>
<rect x="399" y="5" width="1" height="21" fill="#a0a0a0" shape-rendering="crispEdges"/>
<rect x="404" y="4" width="25" height="22" fill="url(#chk)" shape-rendering="crispEdges"/>
<rect x="404" y="4" width="25" height="1" fill="#9a9a9a" shape-rendering="crispEdges"/>
<rect x="404" y="4" width="1" height="22" fill="#9a9a9a" shape-rendering="crispEdges"/>
<rect x="405" y="25" width="24" height="1" fill="#ffffff" shape-rendering="crispEdges"/>
<rect x="428" y="5" width="1" height="21" fill="#ffffff" shape-rendering="crispEdges"/>
<rect x="412" y="11" width="1" height="13" fill="#5a5a5a" shape-rendering="crispEdges"/>
<rect x="410" y="21" width="14" height="1" fill="#5a5a5a" shape-rendering="crispEdges"/>
<polygon points="412.5,9.6 410.2,12.6 414.8,12.6" fill="#5a5a5a"/>
<polygon points="424.3,21.5 421.3,19.2 421.3,23.8" fill="#5a5a5a"/>
<polygon points="417.3,12.4 417.3,18.8 421,15.6" fill="#6fe46f" stroke="#089808" stroke-width="1"/>
<rect x="432" y="4" width="25" height="22" fill="url(#chk)" shape-rendering="crispEdges"/>
<rect x="432" y="4" width="25" height="1" fill="#9a9a9a" shape-rendering="crispEdges"/>
<rect x="432" y="4" width="1" height="22" fill="#9a9a9a" shape-rendering="crispEdges"/>
<rect x="433" y="25" width="24" height="1" fill="#ffffff" shape-rendering="crispEdges"/>
<rect x="456" y="5" width="1" height="21" fill="#ffffff" shape-rendering="crispEdges"/>
<rect x="440" y="11" width="1" height="13" fill="#5a5a5a" shape-rendering="crispEdges"/>
<rect x="438" y="21" width="14" height="1" fill="#5a5a5a" shape-rendering="crispEdges"/>
<polygon points="440.5,9.6 438.2,12.6 442.8,12.6" fill="#5a5a5a"/>
<polygon points="452.3,21.5 449.3,19.2 449.3,23.8" fill="#5a5a5a"/>
<rect x="446" y="10" width="2" height="10" fill="#1c6cac" shape-rendering="crispEdges"/>
<polygon points="447.8,15.5 450.6,13 450.2,15 452.2,15 452.2,16 450.2,16 450.6,18" fill="#e24e08"/>
<rect x="461" y="5" width="1" height="21" fill="#a0a0a0" shape-rendering="crispEdges"/>
<path d="M472.6,8.4 L480.4,8.4 L483,11 L483,21.2 L472.6,21.2 Z" fill="#f8f8f8" stroke="#8e8e8e" stroke-width=".9"/>
<path d="M480.4,8.4 L480.4,11 L483,11" fill="#e0e0e0" stroke="#8e8e8e" stroke-width=".7"/>
<path d="M475.2,11 C474,11.6 474.2,13.6 475,14 C474,14.6 474.2,17 475.4,17.4" fill="none" stroke="#6a5a30" stroke-width=".8"/>
<path d="M479.2,14 h4.2 v3.8 h3.8 v4.2 h-3.8 v3.8 h-4.2 v-3.8 h-3.8 v-4.2 h3.8 Z" fill="#2bd32b" stroke="#0c940c" stroke-width=".9"/>
<path d="M480.3,15 h2 v4 h3.6 v1 h-8.6 v-1 h3 Z" fill="#8af58a" opacity=".8"/>
<polygon points="492.9,14.7 498.5,14.7 495.7,18.2" fill="#000"/>
<circle cx="517" cy="16" r="6.6" fill="#eef1f5" stroke="#1464d2" stroke-width="2.4"/>
<circle cx="517" cy="16" r="7.8" fill="none" stroke="#0c4aa8" stroke-width=".5"/>
<path d="M511.6,12 A6.4,6.4 0 0 1 522.4,12" fill="none" stroke="#5aa0f0" stroke-width="1"/>
<path d="M516.6,11.4 L516.9,16 L519.6,16.4" fill="none" stroke="#202020" stroke-width="1.3"/>
<path d="M514.6,19.2 L519.4,19.2" stroke="#6aa8f0" stroke-width="1"/>
<polygon points="531.8,14.7 537.4,14.7 534.5999999999999,18.2" fill="#000"/>
<rect x="548" y="9" width="16" height="14" fill="#ffffff"/>
<rect x="548.5" y="9.5" width="15.4" height="13.2" fill="#fff" stroke="#3a78c8" stroke-width="1.1"/>
<rect x="548" y="9" width="16.4" height="2.6" fill="#4a8ad8"/>
<rect x="549.6" y="10" width="6" height="0.9" fill="#b8d8f8"/>
<rect x="548.6" y="16.9" width="15.2" height="1" fill="#6a9ad8"/>
<polyline points="550.4,14.8 552.4,14.8 554.6,13.4 556.4,13.4 558,14.2 559.8,14.2 561.8,13 562.4,13" fill="none" stroke="#a01c00" stroke-width="1.2"/>
<polyline points="551,20.4 553,19.4 554.6,20.4 556.6,20.2 558.8,18.4 560.2,18.6 561.8,20.6" fill="none" stroke="#0a8a0a" stroke-width="1.2"/>
<polygon points="570.9,14.7 576.5,14.7 573.6999999999999,18.2" fill="#000"/>
<rect x="582" y="3" width="1" height="25" fill="#828282" shape-rendering="crispEdges"/>
<rect x="583" y="3" width="1" height="25" fill="#fcfcfc" shape-rendering="crispEdges"/>
<rect x="586" y="6" width="3" height="1" fill="#a8a8a8" shape-rendering="crispEdges"/>
<rect x="586" y="8" width="3" height="1" fill="#a8a8a8" shape-rendering="crispEdges"/>
<rect x="586" y="10" width="3" height="1" fill="#a8a8a8" shape-rendering="crispEdges"/>
<rect x="586" y="12" width="3" height="1" fill="#a8a8a8" shape-rendering="crispEdges"/>
<rect x="586" y="14" width="3" height="1" fill="#a8a8a8" shape-rendering="crispEdges"/>
<rect x="586" y="16" width="3" height="1" fill="#a8a8a8" shape-rendering="crispEdges"/>
<rect x="586" y="18" width="3" height="1" fill="#a8a8a8" shape-rendering="crispEdges"/>
<rect x="586" y="20" width="3" height="1" fill="#a8a8a8" shape-rendering="crispEdges"/>
<rect x="586" y="22" width="3" height="1" fill="#a8a8a8" shape-rendering="crispEdges"/>
<rect x="586" y="24" width="3" height="1" fill="#a8a8a8" shape-rendering="crispEdges"/>
<rect x="592" y="4" width="25" height="22" fill="url(#chk)" shape-rendering="crispEdges"/>
<rect x="592" y="4" width="25" height="1" fill="#9a9a9a" shape-rendering="crispEdges"/>
<rect x="592" y="4" width="1" height="22" fill="#9a9a9a" shape-rendering="crispEdges"/>
<rect x="593" y="25" width="24" height="1" fill="#ffffff" shape-rendering="crispEdges"/>
<rect x="616" y="5" width="1" height="21" fill="#ffffff" shape-rendering="crispEdges"/>
<polygon points="600,9.2 600,20.4 602.6,18 604.6,22.8 606.4,22 604.4,17.4 608.2,17.2" fill="#3c3c3c"/>
<rect x="632" y="9" width="1" height="15" fill="#505050" shape-rendering="crispEdges"/>
<rect x="625" y="16" width="15" height="1" fill="#505050" shape-rendering="crispEdges"/>
<rect x="631" y="15" width="3" height="3" fill="#f0f0f0" shape-rendering="crispEdges"/>
<rect x="632" y="16" width="1" height="1" fill="#808080" shape-rendering="crispEdges"/>
<rect x="649" y="5" width="1" height="21" fill="#a0a0a0" shape-rendering="crispEdges"/>
<rect x="666" y="10" width="1" height="13" fill="#505050" shape-rendering="crispEdges"/>
<rect x="689" y="16" width="12" height="1" fill="#505050" shape-rendering="crispEdges"/>
<line x1="717" y1="22.8" x2="729" y2="11" stroke="#505050" stroke-width="1.1"/>
<line x1="742.8" y1="17.6" x2="755.4" y2="9.8" stroke="#404040" stroke-width="1"/>
<line x1="747.9" y1="22.7" x2="757.2" y2="14.6" stroke="#404040" stroke-width="1"/>
<polyline points="744.2,20.4 746,14.6 748,19.6 750,12.8 752,17.2 754,9.6 755.6,15.4" fill="none" stroke="#404040" stroke-width="1"/>
<text x="753.6" y="24.8" font-family="Liberation Sans, sans-serif" font-weight="bold" font-size="6.4" fill="#303030">E</text>
<rect x="772" y="9" width="1" height="1" fill="#404040" shape-rendering="crispEdges"/>
<rect x="774" y="9" width="1" height="1" fill="#404040" shape-rendering="crispEdges"/>
<rect x="776" y="9" width="1" height="1" fill="#404040" shape-rendering="crispEdges"/>
<rect x="778" y="9" width="1" height="1" fill="#404040" shape-rendering="crispEdges"/>
<rect x="780" y="9" width="1" height="1" fill="#404040" shape-rendering="crispEdges"/>
<rect x="782" y="9" width="1" height="1" fill="#404040" shape-rendering="crispEdges"/>
<rect x="784" y="9" width="1" height="1" fill="#404040" shape-rendering="crispEdges"/>
<rect x="772" y="12" width="1" height="1" fill="#404040" shape-rendering="crispEdges"/>
<rect x="774" y="12" width="1" height="1" fill="#404040" shape-rendering="crispEdges"/>
<rect x="776" y="12" width="1" height="1" fill="#404040" shape-rendering="crispEdges"/>
<rect x="778" y="12" width="1" height="1" fill="#404040" shape-rendering="crispEdges"/>
<rect x="780" y="12" width="1" height="1" fill="#404040" shape-rendering="crispEdges"/>
<rect x="782" y="12" width="1" height="1" fill="#404040" shape-rendering="crispEdges"/>
<rect x="784" y="12" width="1" height="1" fill="#404040" shape-rendering="crispEdges"/>
<rect x="772" y="16" width="1" height="1" fill="#404040" shape-rendering="crispEdges"/>
<rect x="774" y="16" width="1" height="1" fill="#404040" shape-rendering="crispEdges"/>
<rect x="776" y="16" width="1" height="1" fill="#404040" shape-rendering="crispEdges"/>
<rect x="778" y="16" width="1" height="1" fill="#404040" shape-rendering="crispEdges"/>
<rect x="780" y="16" width="1" height="1" fill="#404040" shape-rendering="crispEdges"/>
<rect x="782" y="16" width="1" height="1" fill="#404040" shape-rendering="crispEdges"/>
<rect x="784" y="16" width="1" height="1" fill="#404040" shape-rendering="crispEdges"/>
<rect x="772" y="20" width="1" height="1" fill="#404040" shape-rendering="crispEdges"/>
<rect x="774" y="20" width="1" height="1" fill="#404040" shape-rendering="crispEdges"/>
<rect x="776" y="20" width="1" height="1" fill="#404040" shape-rendering="crispEdges"/>
<rect x="778" y="20" width="1" height="1" fill="#404040" shape-rendering="crispEdges"/>
<rect x="780" y="20" width="1" height="1" fill="#404040" shape-rendering="crispEdges"/>
<text x="781.6" y="24.8" font-family="Liberation Sans, sans-serif" font-weight="bold" font-size="6.4" fill="#303030">F</text>
<text x="802.4" y="20.9" font-family="Liberation Sans, sans-serif" font-weight="bold" font-size="12" fill="#505050">A</text>
<rect x="829" y="10" width="1" height="1" fill="#404040" shape-rendering="crispEdges"/>
<rect x="829" y="22" width="1" height="1" fill="#404040" shape-rendering="crispEdges"/>
<rect x="829" y="10" width="1" height="1" fill="#404040" shape-rendering="crispEdges"/>
<rect x="841" y="10" width="1" height="1" fill="#404040" shape-rendering="crispEdges"/>
<rect x="831" y="10" width="1" height="1" fill="#404040" shape-rendering="crispEdges"/>
<rect x="831" y="22" width="1" height="1" fill="#404040" shape-rendering="crispEdges"/>
<rect x="829" y="12" width="1" height="1" fill="#404040" shape-rendering="crispEdges"/>
<rect x="841" y="12" width="1" height="1" fill="#404040" shape-rendering="crispEdges"/>
<rect x="833" y="10" width="1" height="1" fill="#404040" shape-rendering="crispEdges"/>
<rect x="833" y="22" width="1" height="1" fill="#404040" shape-rendering="crispEdges"/>
<rect x="829" y="14" width="1" height="1" fill="#404040" shape-rendering="crispEdges"/>
<rect x="841" y="14" width="1" height="1" fill="#404040" shape-rendering="crispEdges"/>
<rect x="835" y="10" width="1" height="1" fill="#404040" shape-rendering="crispEdges"/>
<rect x="835" y="22" width="1" height="1" fill="#404040" shape-rendering="crispEdges"/>
<rect x="829" y="16" width="1" height="1" fill="#404040" shape-rendering="crispEdges"/>
<rect x="841" y="16" width="1" height="1" fill="#404040" shape-rendering="crispEdges"/>
<rect x="837" y="10" width="1" height="1" fill="#404040" shape-rendering="crispEdges"/>
<rect x="837" y="22" width="1" height="1" fill="#404040" shape-rendering="crispEdges"/>
<rect x="829" y="18" width="1" height="1" fill="#404040" shape-rendering="crispEdges"/>
<rect x="841" y="18" width="1" height="1" fill="#404040" shape-rendering="crispEdges"/>
<rect x="839" y="10" width="1" height="1" fill="#404040" shape-rendering="crispEdges"/>
<rect x="839" y="22" width="1" height="1" fill="#404040" shape-rendering="crispEdges"/>
<rect x="829" y="20" width="1" height="1" fill="#404040" shape-rendering="crispEdges"/>
<rect x="841" y="20" width="1" height="1" fill="#404040" shape-rendering="crispEdges"/>
<rect x="841" y="10" width="1" height="1" fill="#404040" shape-rendering="crispEdges"/>
<rect x="841" y="22" width="1" height="1" fill="#404040" shape-rendering="crispEdges"/>
<rect x="829" y="22" width="1" height="1" fill="#404040" shape-rendering="crispEdges"/>
<rect x="841" y="22" width="1" height="1" fill="#404040" shape-rendering="crispEdges"/>
<rect x="828" y="9" width="2" height="1" fill="#404040" shape-rendering="crispEdges"/>
<text x="831.2" y="20.9" font-family="Liberation Sans, sans-serif" font-weight="bold" font-size="11.5" fill="#505050">T</text>
<polygon points="859.3,10 862.8,13.4 860.8,13.4 860.8,14.6 857.8,14.6 857.8,13.4 855.8,13.4" fill="#505050"/>
<polyline points="857.8,17.4 860.2,19.4 864.7,14.3" fill="none" stroke="#505050" stroke-width="1.3"/>
<polygon points="866.5,23 870,19.6 868,19.6 868,18.4 865,18.4 865,19.6 863,19.6" fill="#505050"/>
<polygon points="876.8,14.7 882.4,14.7 879.5999999999999,18.2" fill="#000"/>
<rect x="888" y="3" width="1" height="25" fill="#828282" shape-rendering="crispEdges"/>
<rect x="889" y="3" width="1" height="25" fill="#fcfcfc" shape-rendering="crispEdges"/>
<rect x="892" y="6" width="3" height="1" fill="#a8a8a8" shape-rendering="crispEdges"/>
<rect x="892" y="8" width="3" height="1" fill="#a8a8a8" shape-rendering="crispEdges"/>
<rect x="892" y="10" width="3" height="1" fill="#a8a8a8" shape-rendering="crispEdges"/>
<rect x="892" y="12" width="3" height="1" fill="#a8a8a8" shape-rendering="crispEdges"/>
<rect x="892" y="14" width="3" height="1" fill="#a8a8a8" shape-rendering="crispEdges"/>
<rect x="892" y="16" width="3" height="1" fill="#a8a8a8" shape-rendering="crispEdges"/>
<rect x="892" y="18" width="3" height="1" fill="#a8a8a8" shape-rendering="crispEdges"/>
<rect x="892" y="20" width="3" height="1" fill="#a8a8a8" shape-rendering="crispEdges"/>
<rect x="892" y="22" width="3" height="1" fill="#a8a8a8" shape-rendering="crispEdges"/>
<rect x="892" y="24" width="3" height="1" fill="#a8a8a8" shape-rendering="crispEdges"/>
<rect x="1038" y="4" width="25" height="22" fill="url(#chk)" shape-rendering="crispEdges"/>
<rect x="1038" y="4" width="25" height="1" fill="#9a9a9a" shape-rendering="crispEdges"/>
<rect x="1038" y="4" width="1" height="22" fill="#9a9a9a" shape-rendering="crispEdges"/>
<rect x="1039" y="25" width="24" height="1" fill="#ffffff" shape-rendering="crispEdges"/>
<rect x="1062" y="5" width="1" height="21" fill="#ffffff" shape-rendering="crispEdges"/>
<text x="910.0" y="19.9" text-anchor="middle" font-family="Liberation Sans, sans-serif" font-size="9.6" fill="#3c3c3c" textLength="12.3" lengthAdjust="spacingAndGlyphs">M1</text>
<text x="937.9" y="19.9" text-anchor="middle" font-family="Liberation Sans, sans-serif" font-size="9.6" fill="#3c3c3c" textLength="12.2" lengthAdjust="spacingAndGlyphs">M5</text>
<text x="966.5" y="19.9" text-anchor="middle" font-family="Liberation Sans, sans-serif" font-size="9.6" fill="#3c3c3c" textLength="17.7" lengthAdjust="spacingAndGlyphs">M15</text>
<text x="994.4" y="19.9" text-anchor="middle" font-family="Liberation Sans, sans-serif" font-size="9.6" fill="#3c3c3c" textLength="17.4" lengthAdjust="spacingAndGlyphs">M30</text>
<text x="1022.3" y="19.9" text-anchor="middle" font-family="Liberation Sans, sans-serif" font-size="9.6" fill="#3c3c3c" textLength="11.2" lengthAdjust="spacingAndGlyphs">H1</text>
<text x="1049.9" y="19.9" text-anchor="middle" font-family="Liberation Sans, sans-serif" font-size="9.6" fill="#3c3c3c" textLength="12.2" lengthAdjust="spacingAndGlyphs">H4</text>
<text x="1078.3" y="19.9" text-anchor="middle" font-family="Liberation Sans, sans-serif" font-size="9.6" fill="#3c3c3c" textLength="11.4" lengthAdjust="spacingAndGlyphs">D1</text>
<text x="1107.0" y="19.9" text-anchor="middle" font-family="Liberation Sans, sans-serif" font-size="9.6" fill="#3c3c3c" textLength="14.0" lengthAdjust="spacingAndGlyphs">W1</text>
<text x="1133.8" y="19.9" text-anchor="middle" font-family="Liberation Sans, sans-serif" font-size="9.6" fill="#3c3c3c" textLength="14.4" lengthAdjust="spacingAndGlyphs">MN</text>
<rect x="1149" y="5" width="1" height="21" fill="#a0a0a0" shape-rendering="crispEdges"/>
<line x1="1616.4" y1="16.6" x2="1612" y2="20.6" stroke="#2a58d0" stroke-width="2.4" stroke-linecap="round"/>
<circle cx="1619.4" cy="13.5" r="4" fill="#f4f6fb" stroke="#2a5cd8" stroke-width="1.3"/>
<path d="M1637.6,16 C1639,13.4 1647,13.2 1648.6,16.4 C1649.6,19.4 1646.6,22 1642.4,21.8 L1639.6,24.2 L1639.8,21.4 C1637.2,20.4 1636.6,18 1637.6,16 Z" fill="#dcdfe6" stroke="#9a9ca4" stroke-width=".8"/>
<circle cx="1650.6" cy="13.5" r="8.2" fill="url(#gRed)"/>
<text x="1650.4" y="18" text-anchor="middle" font-family="Liberation Sans, sans-serif" font-size="12.4" fill="#fff">1</text>
</svg>
<div class="t" style="left:1623px;top:58px;">0.67850</div>
<div class="t" style="left:1623px;top:91px;">0.67710</div>
<div class="t" style="left:1623px;top:124px;">0.67570</div>
<div class="t" style="left:1623px;top:157px;">0.67430</div>
<div class="t" style="left:1623px;top:190px;">0.67290</div>
<div class="t" style="left:1623px;top:223px;">0.67150</div>
<div class="t" style="left:1623px;top:256px;">0.67010</div>
<div class="t" style="left:1623px;top:289px;">0.66870</div>
<div class="t" style="left:1623px;top:322px;">0.66730</div>
<div class="t" style="left:1623px;top:355px;">0.66590</div>
<div class="t" style="left:1623px;top:389px;">0.66450</div>
<div class="t" style="left:1623px;top:422px;">0.66310</div>
<div class="t" style="left:1623px;top:455px;">0.66170</div>
<div class="t" style="left:1623px;top:488px;">0.66030</div>
<div class="t" style="left:1623px;top:521px;">0.65890</div>
<div class="t" style="left:1623px;top:554px;">0.65750</div>
<div class="t" style="left:1623px;top:587px;">0.65610</div>
<div class="t" style="left:1621px;top:599px;">0.001602</div>
<div class="t" style="left:1621px;top:624px;">0.00</div>
<div class="t" style="left:1621px;top:704px;">-0.004592</div>
<div class="t" style="left:1621px;top:720px;">100</div>
<div class="t" style="left:1619.5px;top:735px;">80</div>
<div class="t" style="left:1619.5px;top:767px;">50</div>
<div class="t" style="left:1619.5px;top:804px;">15</div>
<div class="t" style="left:1620.5px;top:813px;">0</div>
<div class="pb" style="top:167px;background:#ff0000"><span>0.67379</span></div>
<div class="pb" style="top:195px;background:#ff0000"><span>0.67260</span></div>
<div class="pb" style="top:225px;background:#000"><span>0.67140</span></div>
<div class="pb" style="top:239px;background:#ff8c00"><span>0.67074</span></div>
<div class="pb" style="top:268px;background:#0000ff"><span>0.66952</span></div>
<div class="pb" style="top:298px;background:#0000ff"><span>0.66825</span></div>
<div class="t" style="left:21px;top:36px;--w:1">AUDUSD-,H4&nbsp; 0.66845 0.67162 0.66832 0.67140</div>
<div class="t" style="left:9px;top:601px;">MACD(12,26,9) 0.001320 0.000547</div>
<div class="t" style="left:9px;top:722px;">RSI(14) 60.5701</div>
<div class="t" style="left:4px;top:829px;">28 Feb 2023</div>
<div class="t" style="left:68px;top:829px;">1 Mar 08:00</div>
<div class="t" style="left:132px;top:829px;">2 Mar 00:00</div>
<div class="t" style="left:196px;top:829px;">2 Mar 16:00</div>
<div class="t" style="left:260px;top:829px;">3 Mar 08:00</div>
<div class="t" style="left:324px;top:829px;">6 Mar 00:00</div>
<div class="t" style="left:388px;top:829px;">6 Mar 16:00</div>
<div class="t" style="left:452px;top:829px;">7 Mar 08:00</div>
<div class="t" style="left:516px;top:829px;">8 Mar 00:00</div>
<div class="t" style="left:580px;top:829px;">8 Mar 16:00</div>
<div class="t" style="left:644px;top:829px;">9 Mar 08:00</div>
<div class="t" style="left:708px;top:829px;">10 Mar 00:00</div>
<div class="t" style="left:772px;top:829px;">10 Mar 16:00</div>
<div class="t" style="left:836px;top:829px;">13 Mar 08:00</div>
<div class="t" style="left:900px;top:829px;">14 Mar 00:00</div>
<div class="t" style="left:964px;top:829px;">14 Mar 16:00</div>
<div class="t" style="left:1028px;top:829px;">15 Mar 08:00</div>
<div class="t" style="left:1092px;top:829px;">16 Mar 00:00</div>
<div class="t" style="left:1156px;top:829px;">16 Mar 16:00</div>
<div class="t" style="left:1220px;top:829px;">17 Mar 08:00</div>
</body></html>
